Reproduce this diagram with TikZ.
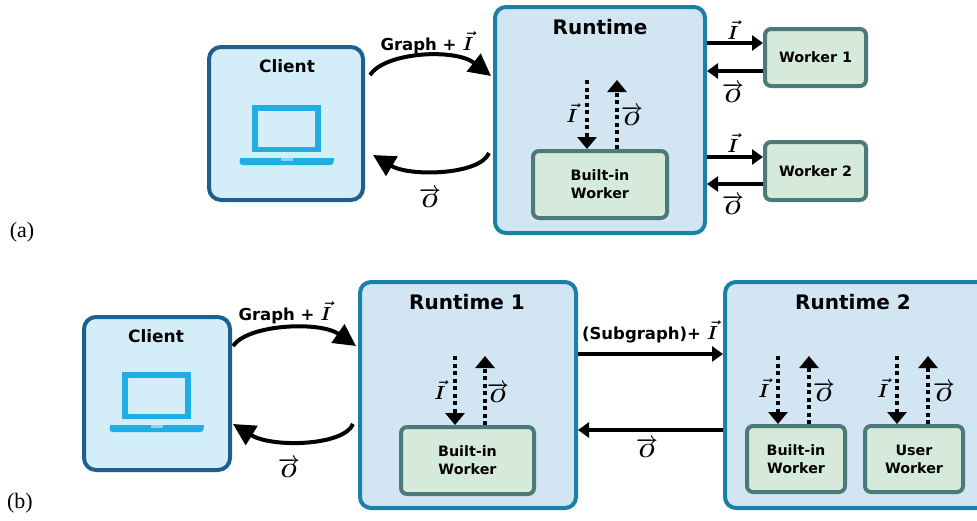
\documentclass[tikz,border=0pt]{standalone}
\usepackage{fix-cm}
\usepackage{fontspec}
\newfontfamily\dvs{DejaVu Sans}
\newfontfamily\libserif{Liberation Serif}
\usetikzlibrary{arrows.meta,calc}
\newcommand\myfs[2]{\fontsize{#1}{#2}\selectfont}
\definecolor{cliB}{HTML}{1E5F8F}
\definecolor{cliF}{HTML}{D4EEF9}
\definecolor{lapC}{HTML}{1FADE4}
\definecolor{runB}{HTML}{1A80A8}
\definecolor{runF}{HTML}{D1E5F3}
\definecolor{wkB}{HTML}{4B7A78}
\definecolor{wkF}{HTML}{D5EADA}
\tikzset{
  clientbox/.style={draw=cliB, fill=cliF, line width=4pt, rounded corners=12pt, inner sep=0pt},
  runbox/.style={draw=runB, fill=runF, line width=4pt, rounded corners=11pt, inner sep=0pt},
  workbox/.style={draw=wkB, fill=wkF, line width=4pt, rounded corners=6pt, inner sep=0pt,
    align=center, font=\dvs\bfseries\myfs{14.3}{18}},
  ttlbig/.style={inner sep=0pt, font=\dvs\bfseries\myfs{20}{24}},
  ttlmid/.style={inner sep=0pt, font=\dvs\bfseries\myfs{17}{20}},
  lbl/.style={inner sep=0pt, font=\myfs{19}{19}\boldmath},
  txtlbl/.style={inner sep=0pt, font=\dvs\bfseries\myfs{16.5}{20}},
  panel/.style={inner sep=0pt, font=\libserif\myfs{22}{24}},
  arr/.style={line width=3.5pt, -{Triangle[length=11pt,width=15pt]}},
  bigarr/.style={line width=4pt, -{Triangle[length=22pt,width=22pt]}},
  dotarr/.style={line width=4pt, dash pattern=on 4pt off 3.5pt, -{Triangle[length=12pt,width=19pt]}},
  laptop/.pic={
    \fill[lapC] (-34.5,0) rectangle (34.5,47);
    \fill[cliF] (-28.5,6) rectangle (28.5,42);
    \fill[lapC, rounded corners=3pt] (-47,53) rectangle (47,60);
    \fill[lapC] (-47,53) rectangle (47,56);
    \fill[cliF!60!lapC] (-6,53) rectangle (6,55.5);
  }
}
\newcommand\vI{{\myfs{19}{19}\boldmath$\vec{I}$}}
\begin{document}
\begin{tikzpicture}[x=1pt,y=-1pt]
\useasboundingbox (0,0) rectangle (977,520);
\clip (0,0) rectangle (977,520);
\fill[white] (0,0) rectangle (977,520);

% ---------------- (a) ----------------
\node[clientbox, minimum width=154pt, minimum height=153pt] (cliA) at (286,123.5) {};
\node[ttlmid] (cliAt) at (287,66) {Client};
\pic at (286.5,105) {laptop};
\node[runbox, minimum width=210pt, minimum height=226pt] (runA) at (600,120) {};
\node[ttlbig] (runAt) at (600,27) {Runtime};
\node[workbox, minimum width=134pt, minimum height=67pt] (biA) at (600,184.5) {Built-in\\Worker};
\node[workbox, minimum width=101pt, minimum height=57pt] (w1) at (815.5,57.5) {Worker 1};
\node[workbox, minimum width=101pt, minimum height=58pt] (w2) at (815.5,171) {Worker 2};

\draw[bigarr] ($(cliA.east |- 0,75)+(5,0)$) .. controls +(15,-23) and +(-36,-28) .. ($(runA.west |- 0,76)+(-2,0)$);
\draw[bigarr] ($(runA.west |- 0,153)+(-4,0)$) .. controls +(-9,22) and +(37,22) .. ($(cliA.east |- 0,155)+(8,0)$);
\node[txtlbl] (gA) at (427,43) {Graph + \vI};
\node[lbl] (oA) at (430,198) {$\overrightarrow{O}$};

\draw[arr] (runA.east |- 0,43) -- (w1.west |- 0,43);
\draw[arr] (w1.west |- 0,71) -- (runA.east |- 0,71);
\draw[arr] (runA.east |- 0,157) -- (w2.west |- 0,157);
\draw[arr] (w2.west |- 0,184) -- (runA.east |- 0,184);
\node[lbl] (iw1) at (733,30) {$\vec{I}$};
\node[lbl] (ow1) at (733,93) {$\overrightarrow{O}$};
\node[lbl] (iw2) at (733,143) {$\vec{I}$};
\node[lbl] (ow2) at (733,205) {$\overrightarrow{O}$};

\coordinate (dA) at (587,80);
\coordinate (uA) at (617,80);
\draw[dotarr] (dA) -- (biA.north -| dA);
\draw[dotarr] (biA.north -| uA) -- (uA);
\node[lbl] (idA) at (572,113) {$\vec{I}$};
\node[lbl] (odA) at (632,116) {$\overrightarrow{O}$};

\node[panel] (pa) at (22,232) {(a)};

% ---------------- (b) ----------------
\node[clientbox, minimum width=146pt, minimum height=153pt] (cliB) at (157,393.5) {};
\node[ttlmid] (cliBt) at (156,336) {Client};
\pic at (156.5,372) {laptop};
\node[runbox, minimum width=216pt, minimum height=226pt] (runB1) at (468,395) {};
\node[ttlbig] (runB1t) at (467,302) {Runtime 1};
\node[workbox, minimum width=133pt, minimum height=67pt] (biB1) at (467.5,460.5) {Built-in\\Worker};
\node[runbox, minimum width=273pt, minimum height=226pt] (runB2) at (861.5,395) {};
\node[ttlbig] (runB2t) at (853,302) {Runtime 2};
\node[workbox, minimum width=98pt, minimum height=66pt] (biB2) at (796,459) {Built-in\\Worker};
\node[workbox, minimum width=98pt, minimum height=66pt] (usB2) at (914,459) {User\\Worker};

\draw[bigarr] ($(cliB.east |- 0,346)+(1,0)$) .. controls +(15,-22) and +(-36,-25) .. ($(runB1.west |- 0,346)+(-2,0)$);
\draw[bigarr] ($(runB1.west |- 0,424)+(-5,0)$) .. controls +(-9,22) and +(39,24) .. ($(cliB.east |- 0,424)+(1,0)$);
\node[txtlbl] (gB) at (285,313) {Graph + \vI};
\node[lbl] (oB) at (289,468) {$\overrightarrow{O}$};

\draw[arr] (runB1.east |- 0,354) -- (runB2.west |- 0,354);
\draw[arr] (runB2.west |- 0,430) -- (runB1.east |- 0,430);
\node[txtlbl] (sg) at (650,332) {(Subgraph)+ \vI};
\node[lbl] (oR) at (647,448) {$\overrightarrow{O}$};

\coordinate (dB1) at (455,356);
\coordinate (uB1) at (485,356);
\draw[dotarr] (dB1) -- (biB1.north -| dB1);
\draw[dotarr] (biB1.north -| uB1) -- (uB1);
\node[lbl] (idB1) at (440,390) {$\vec{I}$};
\node[lbl] (odB1) at (498,393) {$\overrightarrow{O}$};

\coordinate (dB2) at (778,356);
\coordinate (uB2) at (809,356);
\draw[dotarr] (dB2) -- (biB2.north -| dB2);
\draw[dotarr] (biB2.north -| uB2) -- (uB2);
\node[lbl] (idB2) at (764,388) {$\vec{I}$};
\node[lbl] (odB2) at (824,392) {$\overrightarrow{O}$};

\coordinate (dU) at (897,356);
\coordinate (uU) at (928,356);
\draw[dotarr] (dU) -- (usB2.north -| dU);
\draw[dotarr] (usB2.north -| uU) -- (uU);
\node[lbl] (idU) at (883,388) {$\vec{I}$};
\node[lbl] (odU) at (944,392) {$\overrightarrow{O}$};

\node[panel] (pb) at (20,503) {(b)};
\end{tikzpicture}
\end{document}
